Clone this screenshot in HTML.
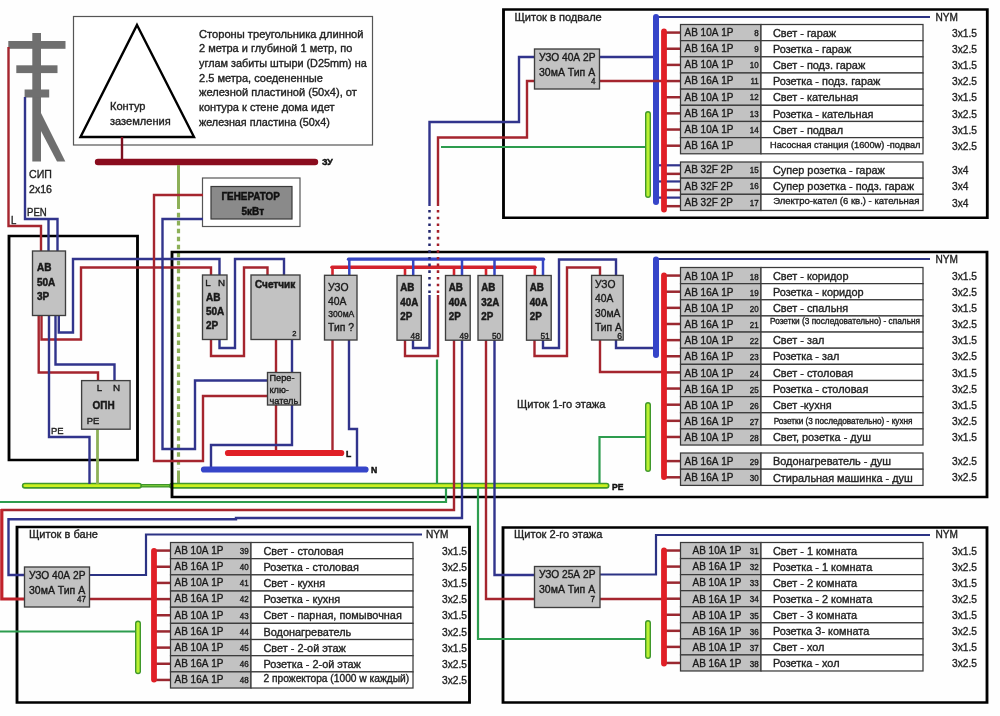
<!DOCTYPE html>
<html lang="ru"><head><meta charset="utf-8"><title>Схема электрощитков</title>
<style>
html,body{margin:0;padding:0;background:#fefefe;}
body{width:1000px;height:716px;overflow:hidden;font-family:"Liberation Sans",sans-serif;}
svg{display:block;filter:blur(0.45px);}
svg text{font-family:"Liberation Sans",sans-serif;}
</style></head><body>
<svg width="1000" height="716" viewBox="0 0 1000 716">
<rect x="0" y="0" width="1000" height="716" fill="#fefefe"/>
<g fill="#6f6f6f">
<rect x="32.3" y="33" width="8.7" height="128.5"/>
<rect x="8.3" y="41" width="57.2" height="7.8"/>
<rect x="16.3" y="65.3" width="41.2" height="7.8"/>
<rect x="24.6" y="89.5" width="24.6" height="8"/>
<polygon points="41,113 65.3,161.5 57,161.5 41,131"/>
</g>
<rect x="73.5" y="16.5" width="299.0" height="128.5" fill="#fff" stroke="#555" stroke-width="1.2" />
<polygon points="137,25 194,137 80.5,137" fill="none" stroke="#000" stroke-width="2.4" stroke-linejoin="miter"/>
<text transform="translate(110 109.99) scale(1.0000 1)" font-size="11.07" text-anchor="start" fill="#222" stroke="#222" stroke-width="0.36" >Контур</text>
<text transform="translate(110 124.69) scale(1.0000 1)" font-size="11.07" text-anchor="start" fill="#222" stroke="#222" stroke-width="0.36" >заземления</text>
<text transform="translate(199 37.72) scale(1.0220 1)" font-size="10.90" text-anchor="start" fill="#222" stroke="#222" stroke-width="0.36" >Стороны треугольника длинной</text>
<text transform="translate(199 52.37) scale(1.0085 1)" font-size="10.90" text-anchor="start" fill="#222" stroke="#222" stroke-width="0.36" >2 метра и глубиной 1 метр, по</text>
<text transform="translate(199 67.02) scale(0.9961 1)" font-size="10.90" text-anchor="start" fill="#222" stroke="#222" stroke-width="0.36" >углам забиты штыри (D25mm) на</text>
<text transform="translate(199 81.67) scale(1.0127 1)" font-size="10.90" text-anchor="start" fill="#222" stroke="#222" stroke-width="0.36" >2.5 метра, соедененные</text>
<text transform="translate(199 96.32) scale(1.0181 1)" font-size="10.90" text-anchor="start" fill="#222" stroke="#222" stroke-width="0.36" >железной пластиной (50х4), от</text>
<text transform="translate(199 110.97) scale(1.0119 1)" font-size="10.90" text-anchor="start" fill="#222" stroke="#222" stroke-width="0.36" >контура к стене дома идет</text>
<text transform="translate(199 125.62) scale(0.9921 1)" font-size="10.90" text-anchor="start" fill="#222" stroke="#222" stroke-width="0.36" >железная пластина (50х4)</text>
<polyline points="122,137 122,160" fill="none" stroke="#7d0f1f" stroke-width="2.4" stroke-linecap="butt" stroke-linejoin="miter" />
<polyline points="98,162 315,162" fill="none" stroke="#8a0c1e" stroke-width="6.4" stroke-linecap="round" stroke-linejoin="miter" />
<text transform="translate(322 165.36) scale(0.9434 1)" font-size="9.33" font-weight="bold" text-anchor="start" fill="#111" stroke="#111" stroke-width="0.5" >ЗУ</text>
<polyline points="178.5,165 178.5,209" fill="none" stroke="#8db058" stroke-width="3" stroke-linecap="butt" stroke-linejoin="miter" />
<polyline points="178.5,212.8 178.5,468.6" fill="none" stroke="#8db058" stroke-width="3.2" stroke-linecap="butt" stroke-linejoin="miter" stroke-dasharray="4.6 3.38"/>
<polyline points="178.5,470.5 178.5,485" fill="none" stroke="#8db058" stroke-width="3" stroke-linecap="butt" stroke-linejoin="miter" />
<rect x="202.5" y="178" width="97.5" height="48.5" fill="#fff" stroke="#555" stroke-width="1.2" />
<rect x="211" y="186.5" width="81" height="32.5" fill="#8a8a8a" stroke="#3a3a3a" stroke-width="1.2" />
<text transform="translate(250.7 199.98) scale(0.9434 1)" font-size="10.49" font-weight="bold" text-anchor="middle" fill="#111" stroke="#111" stroke-width="0.5" >ГЕНЕРАТОР</text>
<text transform="translate(252.8 214.62) scale(0.9434 1)" font-size="10.60" font-weight="bold" text-anchor="middle" fill="#111" stroke="#111" stroke-width="0.5" >5кВт</text>
<text transform="translate(29 178.04) scale(0.9434 1)" font-size="11.24" text-anchor="start" fill="#222" stroke="#222" stroke-width="0.36" >СИП</text>
<text transform="translate(29 192.54) scale(0.9434 1)" font-size="11.24" text-anchor="start" fill="#222" stroke="#222" stroke-width="0.36" >2x16</text>
<text transform="translate(27 216.16) scale(0.9434 1)" font-size="10.18" text-anchor="start" fill="#222" stroke="#222" stroke-width="0.36" >PEN</text>
<text transform="translate(11 223.66) scale(0.9434 1)" font-size="10.18" text-anchor="start" fill="#222" stroke="#222" stroke-width="0.36" >L</text>
<polyline points="139,485.7 172,485.7" fill="none" stroke="#3f932b" stroke-width="3.4" stroke-linecap="butt" stroke-linejoin="miter" />
<polyline points="139,485.7 172,485.7" fill="none" stroke="#7fd23a" stroke-width="1.0" stroke-linecap="butt" stroke-linejoin="miter" />
<polyline points="24.8,485.7 139,485.7" fill="none" stroke="#3f982b" stroke-width="6" stroke-linecap="round" stroke-linejoin="miter" />
<polyline points="24.8,485.7 139,485.7" fill="none" stroke="#cbf01e" stroke-width="2.8" stroke-linecap="round" stroke-linejoin="miter" />
<polyline points="172,485.7 606.5,485.7" fill="none" stroke="#3f982b" stroke-width="6" stroke-linecap="round" stroke-linejoin="miter" />
<polyline points="172,485.7 606.5,485.7" fill="none" stroke="#cbf01e" stroke-width="2.8" stroke-linecap="round" stroke-linejoin="miter" />
<path d="M7.575 234.75H138.925V461.25H7.575Z M10.425 237.25V458.75H136.075V237.25Z" fill="#000" fill-rule="evenodd"/>
<path d="M170.575 250.75H988.425V498.25H170.575Z M173.425 253.25V495.75H985.575V253.25Z" fill="#000" fill-rule="evenodd"/>
<path d="M502.075 8.25H988.7249999999999V219.05H502.075Z M504.925 10.75V216.55H985.875V10.75Z" fill="#000" fill-rule="evenodd"/>
<path d="M15.575 525.75H470.925V703.75H15.575Z M18.425 528.25V701.25H468.075V528.25Z" fill="#000" fill-rule="evenodd"/>
<path d="M501.575 526.25H988.425V703.75H501.575Z M504.425 528.75V701.25H985.575V528.75Z" fill="#000" fill-rule="evenodd"/>
<polyline points="8.5,47 8.5,226 41,226 41,251" fill="none" stroke="#a5252e" stroke-width="2.4" stroke-linecap="butt" stroke-linejoin="miter" />
<polyline points="25,97 25,219 57.5,219 57.5,251" fill="none" stroke="#31348c" stroke-width="2.4" stroke-linecap="butt" stroke-linejoin="miter" />
<polyline points="48.5,219 48.5,251" fill="none" stroke="#31348c" stroke-width="2.4" stroke-linecap="butt" stroke-linejoin="miter" />
<polyline points="38.7,315 38.7,372.5 98,372.5 98,381" fill="none" stroke="#a5252e" stroke-width="2.4" stroke-linecap="butt" stroke-linejoin="miter" />
<polyline points="41.5,315 41.5,339.5 81,339.5 81,267.5 211,267.5 211,275" fill="none" stroke="#a5252e" stroke-width="2.4" stroke-linecap="butt" stroke-linejoin="miter" />
<polyline points="49,315 49,437 89.5,437 89.5,484" fill="none" stroke="#31348c" stroke-width="2.4" stroke-linecap="butt" stroke-linejoin="miter" />
<polyline points="55.5,315 55.5,364.5 114.5,364.5 114.5,381" fill="none" stroke="#31348c" stroke-width="2.4" stroke-linecap="butt" stroke-linejoin="miter" />
<polyline points="58.8,315 58.8,332.5 73,332.5 73,259 219.5,259 219.5,275" fill="none" stroke="#31348c" stroke-width="2.4" stroke-linecap="butt" stroke-linejoin="miter" />
<polyline points="97.5,429 97.5,484" fill="none" stroke="#8db058" stroke-width="2.8" stroke-linecap="butt" stroke-linejoin="miter" />
<polyline points="203,195 154,195 154,461 203,461 203,396 268,396" fill="none" stroke="#a5252e" stroke-width="2.4" stroke-linecap="butt" stroke-linejoin="miter" />
<polyline points="203,219 162.5,219 162.5,449 195,449 195,380.5 268,380.5" fill="none" stroke="#31348c" stroke-width="2.4" stroke-linecap="butt" stroke-linejoin="miter" />
<polyline points="211,339 211,356 244,356 244,267.5 267.5,267.5 267.5,275" fill="none" stroke="#a5252e" stroke-width="2.4" stroke-linecap="butt" stroke-linejoin="miter" />
<polyline points="219.5,339 219.5,348 235,348 235,259 284,259 284,275" fill="none" stroke="#31348c" stroke-width="2.4" stroke-linecap="butt" stroke-linejoin="miter" />
<polyline points="276,339 276,373" fill="none" stroke="#a5252e" stroke-width="2.4" stroke-linecap="butt" stroke-linejoin="miter" />
<polyline points="292,339 292,373" fill="none" stroke="#31348c" stroke-width="2.4" stroke-linecap="butt" stroke-linejoin="miter" />
<polyline points="276,405 276,453" fill="none" stroke="#a5252e" stroke-width="2.4" stroke-linecap="butt" stroke-linejoin="miter" />
<polyline points="292,405 292,445 211,445 211,469" fill="none" stroke="#31348c" stroke-width="2.4" stroke-linecap="butt" stroke-linejoin="miter" />
<polyline points="332.5,339 332.5,453" fill="none" stroke="#a5252e" stroke-width="2.4" stroke-linecap="butt" stroke-linejoin="miter" />
<polyline points="349,339 349,429 357,429 357,469" fill="none" stroke="#31348c" stroke-width="2.4" stroke-linecap="butt" stroke-linejoin="miter" />
<polyline points="228,453 341.2,453" fill="none" stroke="#e01f26" stroke-width="6.2" stroke-linecap="round" stroke-linejoin="miter" />
<polyline points="204,469.5 365.5,469.5" fill="none" stroke="#3645c9" stroke-width="6.2" stroke-linecap="round" stroke-linejoin="miter" />
<text transform="translate(346 456.78) scale(0.9434 1)" font-size="9.12" font-weight="bold" text-anchor="start" fill="#111" stroke="#111" stroke-width="0.5" >L</text>
<text transform="translate(371 472.78) scale(0.9434 1)" font-size="9.12" font-weight="bold" text-anchor="start" fill="#111" stroke="#111" stroke-width="0.5" >N</text>
<polyline points="332,267.2 535,267.2" fill="none" stroke="#d3222c" stroke-width="3.5" stroke-linecap="round" stroke-linejoin="miter" />
<polyline points="332.5,267.2 332.5,275.5" fill="none" stroke="#d3222c" stroke-width="2.6" stroke-linecap="butt" stroke-linejoin="miter" />
<polyline points="405,267.2 405,275.5" fill="none" stroke="#d3222c" stroke-width="2.6" stroke-linecap="butt" stroke-linejoin="miter" />
<polyline points="454,267.2 454,275.5" fill="none" stroke="#d3222c" stroke-width="2.6" stroke-linecap="butt" stroke-linejoin="miter" />
<polyline points="486,267.2 486,275.5" fill="none" stroke="#d3222c" stroke-width="2.6" stroke-linecap="butt" stroke-linejoin="miter" />
<polyline points="534.8,267.2 534.8,275.5" fill="none" stroke="#d3222c" stroke-width="2.6" stroke-linecap="butt" stroke-linejoin="miter" />
<polyline points="348.5,259.2 543.5,259.2" fill="none" stroke="#3545c2" stroke-width="3.3" stroke-linecap="round" stroke-linejoin="miter" />
<polyline points="349.3,259.2 349.3,275.5" fill="none" stroke="#3545c2" stroke-width="2.5" stroke-linecap="butt" stroke-linejoin="miter" />
<polyline points="413.2,259.2 413.2,275.5" fill="none" stroke="#3545c2" stroke-width="2.5" stroke-linecap="butt" stroke-linejoin="miter" />
<polyline points="462,259.2 462,275.5" fill="none" stroke="#3545c2" stroke-width="2.5" stroke-linecap="butt" stroke-linejoin="miter" />
<polyline points="494.5,259.2 494.5,275.5" fill="none" stroke="#3545c2" stroke-width="2.5" stroke-linecap="butt" stroke-linejoin="miter" />
<polyline points="543,259.2 543,275.5" fill="none" stroke="#3545c2" stroke-width="2.5" stroke-linecap="butt" stroke-linejoin="miter" />
<polyline points="413,339 413,348 429.5,348 429.5,295" fill="none" stroke="#31348c" stroke-width="2.4" stroke-linecap="butt" stroke-linejoin="miter" />
<polyline points="405,339 405,356 438,356 438,295" fill="none" stroke="#a5252e" stroke-width="2.4" stroke-linecap="butt" stroke-linejoin="miter" />
<polyline points="429.5,210 429.5,293.5" fill="none" stroke="#22266e" stroke-width="2.5" stroke-linecap="butt" stroke-linejoin="miter" stroke-dasharray="2.6 4.1"/>
<polyline points="438,210 438,293.5" fill="none" stroke="#a51f29" stroke-width="2.5" stroke-linecap="butt" stroke-linejoin="miter" stroke-dasharray="2.6 4.1"/>
<polyline points="429.5,206 429.5,122 519,122 519,57 535,57" fill="none" stroke="#31348c" stroke-width="2.4" stroke-linecap="butt" stroke-linejoin="miter" />
<polyline points="438,206 438,137.5 527,137.5 527,81 535,81" fill="none" stroke="#a5252e" stroke-width="2.4" stroke-linecap="butt" stroke-linejoin="miter" />
<polyline points="437,359.5 437,484" fill="none" stroke="#2d9c4e" stroke-width="2.2" stroke-linecap="butt" stroke-linejoin="miter" />
<polyline points="441,147 645,147" fill="none" stroke="#2d9c4e" stroke-width="2.2" stroke-linecap="butt" stroke-linejoin="miter" />
<polyline points="454,339 454,510 1,510" fill="none" stroke="#a5252e" stroke-width="2.4" stroke-linecap="butt" stroke-linejoin="miter" />
<polyline points="1.8,509 1.8,599 25,599" fill="none" stroke="#c0222b" stroke-width="3.2" stroke-linecap="butt" stroke-linejoin="miter" />
<polyline points="462,339 462,518 236,518 236,519.3 8.5,519.3 8.5,575 25,575" fill="none" stroke="#31348c" stroke-width="2.4" stroke-linecap="butt" stroke-linejoin="miter" />
<polyline points="446,488 446,502 0,502" fill="none" stroke="#2d9c4e" stroke-width="2.2" stroke-linecap="butt" stroke-linejoin="miter" />
<polyline points="0,631.5 135,631.5" fill="none" stroke="#2d9c4e" stroke-width="2.2" stroke-linecap="butt" stroke-linejoin="miter" />
<polyline points="486,339 486,599 535,599" fill="none" stroke="#a5252e" stroke-width="2.4" stroke-linecap="butt" stroke-linejoin="miter" />
<polyline points="494.5,339 494.5,575 535,575" fill="none" stroke="#31348c" stroke-width="2.4" stroke-linecap="butt" stroke-linejoin="miter" />
<polyline points="478,488 478,639 645,639" fill="none" stroke="#2d9c4e" stroke-width="2.2" stroke-linecap="butt" stroke-linejoin="miter" />
<polyline points="534.5,339 534.5,356 567,356 567,267.5 600,267.5 600,275" fill="none" stroke="#a5252e" stroke-width="2.4" stroke-linecap="butt" stroke-linejoin="miter" />
<polyline points="543,339 543,348 559,348 559,259.5 616,259.5 616,275" fill="none" stroke="#31348c" stroke-width="2.4" stroke-linecap="butt" stroke-linejoin="miter" />
<polyline points="600,339 600,372 664,372" fill="none" stroke="#a5252e" stroke-width="2.4" stroke-linecap="butt" stroke-linejoin="miter" />
<polyline points="616,339 616,348 655,348" fill="none" stroke="#31348c" stroke-width="2.4" stroke-linecap="butt" stroke-linejoin="miter" />
<polyline points="599.5,484 599.5,437 645,437" fill="none" stroke="#2d9c4e" stroke-width="2.2" stroke-linecap="butt" stroke-linejoin="miter" />
<text transform="translate(612 489.78) scale(0.9434 1)" font-size="9.12" font-weight="bold" text-anchor="start" fill="#111" stroke="#111" stroke-width="0.5" >PE</text>
<text transform="translate(514.5 20.98) scale(1.0000 1)" font-size="11.05" text-anchor="start" fill="#222" stroke="#222" stroke-width="0.36" >Щиток в подвале</text>
<text transform="translate(517 408.48) scale(1.0000 1)" font-size="11.05" text-anchor="start" fill="#222" stroke="#222" stroke-width="0.36" >Щиток 1-го этажа</text>
<text transform="translate(514 538.48) scale(1.0000 1)" font-size="11.05" text-anchor="start" fill="#222" stroke="#222" stroke-width="0.36" >Щиток 2-го этажа</text>
<text transform="translate(29 538.48) scale(1.0000 1)" font-size="11.05" text-anchor="start" fill="#222" stroke="#222" stroke-width="0.36" >Щиток в бане</text>
<polyline points="664,32.58 680.5,32.58" fill="none" stroke="#9a2830" stroke-width="2.5" stroke-linecap="butt" stroke-linejoin="miter" />
<rect x="680.5" y="24.5" width="80.5" height="16.159999999999997" fill="#c2c2c2" stroke="#3a3a3a" stroke-width="1.25" />
<rect x="761" y="24.5" width="162" height="16.159999999999997" fill="#fff" stroke="#3a3a3a" stroke-width="1.25" />
<text transform="translate(684.5 35.90) scale(0.9434 1)" font-size="10.60" text-anchor="start" fill="#1a1a1a" stroke="#1a1a1a" stroke-width="0.36" >АВ 10А 1Р</text>
<text transform="translate(758.7 35.83) scale(0.9434 1)" font-size="8.48" text-anchor="end" fill="#1a1a1a" stroke="#1a1a1a" stroke-width="0.36" >8</text>
<text transform="translate(773 36.80) scale(1.0000 1)" font-size="10.90" text-anchor="start" fill="#222" stroke="#222" stroke-width="0.36" >Свет - гараж</text>
<text transform="translate(952 36.77) scale(0.9434 1)" font-size="10.81" text-anchor="start" fill="#222" stroke="#222" stroke-width="0.36" >3x1.5</text>
<polyline points="664,48.739999999999995 680.5,48.739999999999995" fill="none" stroke="#9a2830" stroke-width="2.5" stroke-linecap="butt" stroke-linejoin="miter" />
<rect x="680.5" y="40.66" width="80.5" height="16.159999999999997" fill="#c2c2c2" stroke="#3a3a3a" stroke-width="1.25" />
<rect x="761" y="40.66" width="162" height="16.159999999999997" fill="#fff" stroke="#3a3a3a" stroke-width="1.25" />
<text transform="translate(684.5 52.06) scale(0.9434 1)" font-size="10.60" text-anchor="start" fill="#1a1a1a" stroke="#1a1a1a" stroke-width="0.36" >АВ 16А 1Р</text>
<text transform="translate(758.7 51.99) scale(0.9434 1)" font-size="8.48" text-anchor="end" fill="#1a1a1a" stroke="#1a1a1a" stroke-width="0.36" >9</text>
<text transform="translate(773 52.96) scale(1.0000 1)" font-size="10.90" text-anchor="start" fill="#222" stroke="#222" stroke-width="0.36" >Розетка - гараж</text>
<text transform="translate(952 52.93) scale(0.9434 1)" font-size="10.81" text-anchor="start" fill="#222" stroke="#222" stroke-width="0.36" >3x2.5</text>
<polyline points="664,64.9 680.5,64.9" fill="none" stroke="#9a2830" stroke-width="2.5" stroke-linecap="butt" stroke-linejoin="miter" />
<rect x="680.5" y="56.82" width="80.5" height="16.160000000000004" fill="#c2c2c2" stroke="#3a3a3a" stroke-width="1.25" />
<rect x="761" y="56.82" width="162" height="16.160000000000004" fill="#fff" stroke="#3a3a3a" stroke-width="1.25" />
<text transform="translate(684.5 68.22) scale(0.9434 1)" font-size="10.60" text-anchor="start" fill="#1a1a1a" stroke="#1a1a1a" stroke-width="0.36" >АВ 10А 1Р</text>
<text transform="translate(758.7 68.15) scale(0.9434 1)" font-size="8.48" text-anchor="end" fill="#1a1a1a" stroke="#1a1a1a" stroke-width="0.36" >10</text>
<text transform="translate(773 69.12) scale(1.0000 1)" font-size="10.90" text-anchor="start" fill="#222" stroke="#222" stroke-width="0.36" >Свет - подз. гараж</text>
<text transform="translate(952 69.09) scale(0.9434 1)" font-size="10.81" text-anchor="start" fill="#222" stroke="#222" stroke-width="0.36" >3x1.5</text>
<polyline points="664,81.06 680.5,81.06" fill="none" stroke="#9a2830" stroke-width="2.5" stroke-linecap="butt" stroke-linejoin="miter" />
<rect x="680.5" y="72.98" width="80.5" height="16.159999999999997" fill="#c2c2c2" stroke="#3a3a3a" stroke-width="1.25" />
<rect x="761" y="72.98" width="162" height="16.159999999999997" fill="#fff" stroke="#3a3a3a" stroke-width="1.25" />
<text transform="translate(684.5 84.38) scale(0.9434 1)" font-size="10.60" text-anchor="start" fill="#1a1a1a" stroke="#1a1a1a" stroke-width="0.36" >АВ 16А 1Р</text>
<text transform="translate(758.7 84.31) scale(0.9434 1)" font-size="8.48" text-anchor="end" fill="#1a1a1a" stroke="#1a1a1a" stroke-width="0.36" >11</text>
<text transform="translate(773 85.28) scale(1.0000 1)" font-size="10.90" text-anchor="start" fill="#222" stroke="#222" stroke-width="0.36" >Розетка - подз. гараж</text>
<text transform="translate(952 85.25) scale(0.9434 1)" font-size="10.81" text-anchor="start" fill="#222" stroke="#222" stroke-width="0.36" >3x2.5</text>
<polyline points="664,97.22 680.5,97.22" fill="none" stroke="#9a2830" stroke-width="2.5" stroke-linecap="butt" stroke-linejoin="miter" />
<rect x="680.5" y="89.14" width="80.5" height="16.159999999999997" fill="#c2c2c2" stroke="#3a3a3a" stroke-width="1.25" />
<rect x="761" y="89.14" width="162" height="16.159999999999997" fill="#fff" stroke="#3a3a3a" stroke-width="1.25" />
<text transform="translate(684.5 100.54) scale(0.9434 1)" font-size="10.60" text-anchor="start" fill="#1a1a1a" stroke="#1a1a1a" stroke-width="0.36" >АВ 10А 1Р</text>
<text transform="translate(758.7 100.47) scale(0.9434 1)" font-size="8.48" text-anchor="end" fill="#1a1a1a" stroke="#1a1a1a" stroke-width="0.36" >12</text>
<text transform="translate(773 101.44) scale(1.0000 1)" font-size="10.90" text-anchor="start" fill="#222" stroke="#222" stroke-width="0.36" >Свет - кательная</text>
<text transform="translate(952 101.41) scale(0.9434 1)" font-size="10.81" text-anchor="start" fill="#222" stroke="#222" stroke-width="0.36" >3x1.5</text>
<polyline points="664,113.38 680.5,113.38" fill="none" stroke="#9a2830" stroke-width="2.5" stroke-linecap="butt" stroke-linejoin="miter" />
<rect x="680.5" y="105.3" width="80.5" height="16.159999999999997" fill="#c2c2c2" stroke="#3a3a3a" stroke-width="1.25" />
<rect x="761" y="105.3" width="162" height="16.159999999999997" fill="#fff" stroke="#3a3a3a" stroke-width="1.25" />
<text transform="translate(684.5 116.70) scale(0.9434 1)" font-size="10.60" text-anchor="start" fill="#1a1a1a" stroke="#1a1a1a" stroke-width="0.36" >АВ 16А 1Р</text>
<text transform="translate(758.7 116.63) scale(0.9434 1)" font-size="8.48" text-anchor="end" fill="#1a1a1a" stroke="#1a1a1a" stroke-width="0.36" >13</text>
<text transform="translate(773 117.60) scale(1.0000 1)" font-size="10.90" text-anchor="start" fill="#222" stroke="#222" stroke-width="0.36" >Розетка - кательная</text>
<text transform="translate(952 117.57) scale(0.9434 1)" font-size="10.81" text-anchor="start" fill="#222" stroke="#222" stroke-width="0.36" >3x2.5</text>
<polyline points="664,129.54000000000002 680.5,129.54000000000002" fill="none" stroke="#9a2830" stroke-width="2.5" stroke-linecap="butt" stroke-linejoin="miter" />
<rect x="680.5" y="121.46000000000001" width="80.5" height="16.159999999999997" fill="#c2c2c2" stroke="#3a3a3a" stroke-width="1.25" />
<rect x="761" y="121.46000000000001" width="162" height="16.159999999999997" fill="#fff" stroke="#3a3a3a" stroke-width="1.25" />
<text transform="translate(684.5 132.86) scale(0.9434 1)" font-size="10.60" text-anchor="start" fill="#1a1a1a" stroke="#1a1a1a" stroke-width="0.36" >АВ 10А 1Р</text>
<text transform="translate(758.7 132.79) scale(0.9434 1)" font-size="8.48" text-anchor="end" fill="#1a1a1a" stroke="#1a1a1a" stroke-width="0.36" >14</text>
<text transform="translate(773 133.76) scale(1.0000 1)" font-size="10.90" text-anchor="start" fill="#222" stroke="#222" stroke-width="0.36" >Свет - подвал</text>
<text transform="translate(952 133.73) scale(0.9434 1)" font-size="10.81" text-anchor="start" fill="#222" stroke="#222" stroke-width="0.36" >3x1.5</text>
<polyline points="664,145.7 680.5,145.7" fill="none" stroke="#9a2830" stroke-width="2.5" stroke-linecap="butt" stroke-linejoin="miter" />
<rect x="680.5" y="137.62" width="80.5" height="16.159999999999997" fill="#c2c2c2" stroke="#3a3a3a" stroke-width="1.25" />
<rect x="761" y="137.62" width="162" height="16.159999999999997" fill="#fff" stroke="#3a3a3a" stroke-width="1.25" />
<text transform="translate(684.5 149.02) scale(0.9434 1)" font-size="10.60" text-anchor="start" fill="#1a1a1a" stroke="#1a1a1a" stroke-width="0.36" >АВ 16А 1Р</text>
<text transform="translate(770 147.57) scale(1.0000 1)" font-size="9.22" text-anchor="start" fill="#222" stroke="#222" stroke-width="0.36" >Насосная станция (1600w) -подвал</text>
<text transform="translate(952 149.89) scale(0.9434 1)" font-size="10.81" text-anchor="start" fill="#222" stroke="#222" stroke-width="0.36" >3x2.5</text>
<polyline points="656,165.3 680.5,165.3" fill="none" stroke="#31348c" stroke-width="2.2" stroke-linecap="butt" stroke-linejoin="miter" />
<polyline points="664,173.85999999999999 680.5,173.85999999999999" fill="none" stroke="#9a2830" stroke-width="2.5" stroke-linecap="butt" stroke-linejoin="miter" />
<rect x="680.5" y="162.0" width="80.5" height="16.159999999999997" fill="#c2c2c2" stroke="#3a3a3a" stroke-width="1.25" />
<rect x="761" y="162.0" width="162" height="16.159999999999997" fill="#fff" stroke="#3a3a3a" stroke-width="1.25" />
<text transform="translate(684.5 173.40) scale(0.9434 1)" font-size="10.60" text-anchor="start" fill="#1a1a1a" stroke="#1a1a1a" stroke-width="0.36" >АВ 32F 2Р</text>
<text transform="translate(758.7 173.33) scale(0.9434 1)" font-size="8.48" text-anchor="end" fill="#1a1a1a" stroke="#1a1a1a" stroke-width="0.36" >15</text>
<text transform="translate(773 174.30) scale(1.0000 1)" font-size="10.90" text-anchor="start" fill="#222" stroke="#222" stroke-width="0.36" >Супер розетка - гараж</text>
<text transform="translate(952 174.27) scale(0.9434 1)" font-size="10.81" text-anchor="start" fill="#222" stroke="#222" stroke-width="0.36" >3x4</text>
<polyline points="656,181.46 680.5,181.46" fill="none" stroke="#31348c" stroke-width="2.2" stroke-linecap="butt" stroke-linejoin="miter" />
<polyline points="664,190.01999999999998 680.5,190.01999999999998" fill="none" stroke="#9a2830" stroke-width="2.5" stroke-linecap="butt" stroke-linejoin="miter" />
<rect x="680.5" y="178.16" width="80.5" height="16.159999999999997" fill="#c2c2c2" stroke="#3a3a3a" stroke-width="1.25" />
<rect x="761" y="178.16" width="162" height="16.159999999999997" fill="#fff" stroke="#3a3a3a" stroke-width="1.25" />
<text transform="translate(684.5 189.56) scale(0.9434 1)" font-size="10.60" text-anchor="start" fill="#1a1a1a" stroke="#1a1a1a" stroke-width="0.36" >АВ 32F 2Р</text>
<text transform="translate(758.7 189.49) scale(0.9434 1)" font-size="8.48" text-anchor="end" fill="#1a1a1a" stroke="#1a1a1a" stroke-width="0.36" >16</text>
<text transform="translate(773 190.46) scale(1.0000 1)" font-size="10.90" text-anchor="start" fill="#222" stroke="#222" stroke-width="0.36" >Супер розетка - подз. гараж</text>
<text transform="translate(952 190.43) scale(0.9434 1)" font-size="10.81" text-anchor="start" fill="#222" stroke="#222" stroke-width="0.36" >3x4</text>
<polyline points="656,197.62 680.5,197.62" fill="none" stroke="#31348c" stroke-width="2.2" stroke-linecap="butt" stroke-linejoin="miter" />
<polyline points="664,206.17999999999998 680.5,206.17999999999998" fill="none" stroke="#9a2830" stroke-width="2.5" stroke-linecap="butt" stroke-linejoin="miter" />
<rect x="680.5" y="194.32" width="80.5" height="16.159999999999997" fill="#c2c2c2" stroke="#3a3a3a" stroke-width="1.25" />
<rect x="761" y="194.32" width="162" height="16.159999999999997" fill="#fff" stroke="#3a3a3a" stroke-width="1.25" />
<text transform="translate(684.5 205.72) scale(0.9434 1)" font-size="10.60" text-anchor="start" fill="#1a1a1a" stroke="#1a1a1a" stroke-width="0.36" >АВ 32F 2Р</text>
<text transform="translate(758.7 205.65) scale(0.9434 1)" font-size="8.48" text-anchor="end" fill="#1a1a1a" stroke="#1a1a1a" stroke-width="0.36" >17</text>
<text transform="translate(773.2 204.18) scale(1.0000 1)" font-size="9.53" text-anchor="start" fill="#222" stroke="#222" stroke-width="0.36" >Электро-кател (6 кв.) - кательная</text>
<text transform="translate(952 206.59) scale(0.9434 1)" font-size="10.81" text-anchor="start" fill="#222" stroke="#222" stroke-width="0.36" >3x4</text>
<polyline points="656,17 930,17" fill="none" stroke="#2c3384" stroke-width="2" stroke-linecap="butt" stroke-linejoin="miter" />
<polyline points="599.5,57 656,57" fill="none" stroke="#31348c" stroke-width="2.4" stroke-linecap="butt" stroke-linejoin="miter" />
<polyline points="656,17 656,202" fill="none" stroke="#3645c9" stroke-width="6" stroke-linecap="round" stroke-linejoin="miter" />
<polyline points="599.5,81 664,81" fill="none" stroke="#a5252e" stroke-width="2.4" stroke-linecap="butt" stroke-linejoin="miter" />
<polyline points="664,31.5 664,209.5" fill="none" stroke="#e01f26" stroke-width="5.8" stroke-linecap="round" stroke-linejoin="miter" />
<polyline points="648,114 648,195" fill="none" stroke="#3f982b" stroke-width="6" stroke-linecap="round" stroke-linejoin="miter" />
<polyline points="648,114 648,195" fill="none" stroke="#b9f032" stroke-width="3.2" stroke-linecap="round" stroke-linejoin="miter" />
<text transform="translate(935.5 20.85) scale(0.9434 1)" font-size="10.71" text-anchor="start" fill="#222" stroke="#222" stroke-width="0.36" >NYM</text>
<polyline points="664,275.57 680.5,275.57" fill="none" stroke="#9a2830" stroke-width="2.5" stroke-linecap="butt" stroke-linejoin="miter" />
<rect x="680.5" y="267.5" width="80.5" height="16.139999999999986" fill="#c2c2c2" stroke="#3a3a3a" stroke-width="1.25" />
<rect x="761" y="267.5" width="162" height="16.139999999999986" fill="#fff" stroke="#3a3a3a" stroke-width="1.25" />
<text transform="translate(684.5 279.79) scale(0.9434 1)" font-size="10.60" text-anchor="start" fill="#1a1a1a" stroke="#1a1a1a" stroke-width="0.36" >АВ 10А 1Р</text>
<text transform="translate(758.7 279.72) scale(0.9434 1)" font-size="8.48" text-anchor="end" fill="#1a1a1a" stroke="#1a1a1a" stroke-width="0.36" >18</text>
<text transform="translate(773 279.79) scale(1.0000 1)" font-size="10.90" text-anchor="start" fill="#222" stroke="#222" stroke-width="0.36" >Свет - коридор</text>
<text transform="translate(952 279.76) scale(0.9434 1)" font-size="10.81" text-anchor="start" fill="#222" stroke="#222" stroke-width="0.36" >3x1.5</text>
<polyline points="664,291.71 680.5,291.71" fill="none" stroke="#9a2830" stroke-width="2.5" stroke-linecap="butt" stroke-linejoin="miter" />
<rect x="680.5" y="283.64" width="80.5" height="16.139999999999986" fill="#c2c2c2" stroke="#3a3a3a" stroke-width="1.25" />
<rect x="761" y="283.64" width="162" height="16.139999999999986" fill="#fff" stroke="#3a3a3a" stroke-width="1.25" />
<text transform="translate(684.5 295.93) scale(0.9434 1)" font-size="10.60" text-anchor="start" fill="#1a1a1a" stroke="#1a1a1a" stroke-width="0.36" >АВ 16А 1Р</text>
<text transform="translate(758.7 295.86) scale(0.9434 1)" font-size="8.48" text-anchor="end" fill="#1a1a1a" stroke="#1a1a1a" stroke-width="0.36" >19</text>
<text transform="translate(773 295.93) scale(1.0000 1)" font-size="10.90" text-anchor="start" fill="#222" stroke="#222" stroke-width="0.36" >Розетка - коридор</text>
<text transform="translate(952 295.90) scale(0.9434 1)" font-size="10.81" text-anchor="start" fill="#222" stroke="#222" stroke-width="0.36" >3x2.5</text>
<polyline points="664,307.84999999999997 680.5,307.84999999999997" fill="none" stroke="#9a2830" stroke-width="2.5" stroke-linecap="butt" stroke-linejoin="miter" />
<rect x="680.5" y="299.78" width="80.5" height="16.139999999999986" fill="#c2c2c2" stroke="#3a3a3a" stroke-width="1.25" />
<rect x="761" y="299.78" width="162" height="16.139999999999986" fill="#fff" stroke="#3a3a3a" stroke-width="1.25" />
<text transform="translate(684.5 312.07) scale(0.9434 1)" font-size="10.60" text-anchor="start" fill="#1a1a1a" stroke="#1a1a1a" stroke-width="0.36" >АВ 10А 1Р</text>
<text transform="translate(758.7 312.00) scale(0.9434 1)" font-size="8.48" text-anchor="end" fill="#1a1a1a" stroke="#1a1a1a" stroke-width="0.36" >20</text>
<text transform="translate(773 312.07) scale(1.0000 1)" font-size="10.90" text-anchor="start" fill="#222" stroke="#222" stroke-width="0.36" >Свет - спальня</text>
<text transform="translate(952 312.04) scale(0.9434 1)" font-size="10.81" text-anchor="start" fill="#222" stroke="#222" stroke-width="0.36" >3x1.5</text>
<polyline points="664,323.99 680.5,323.99" fill="none" stroke="#9a2830" stroke-width="2.5" stroke-linecap="butt" stroke-linejoin="miter" />
<rect x="680.5" y="315.92" width="80.5" height="16.139999999999986" fill="#c2c2c2" stroke="#3a3a3a" stroke-width="1.25" />
<rect x="761" y="315.92" width="162" height="16.139999999999986" fill="#fff" stroke="#3a3a3a" stroke-width="1.25" />
<text transform="translate(684.5 328.21) scale(0.9434 1)" font-size="10.60" text-anchor="start" fill="#1a1a1a" stroke="#1a1a1a" stroke-width="0.36" >АВ 16А 1Р</text>
<text transform="translate(758.7 328.14) scale(0.9434 1)" font-size="8.48" text-anchor="end" fill="#1a1a1a" stroke="#1a1a1a" stroke-width="0.36" >21</text>
<text transform="translate(770 324.27) scale(1.0000 1)" font-size="8.27" text-anchor="start" fill="#222" stroke="#222" stroke-width="0.36" >Розетки (3 последовательно) - спальня</text>
<text transform="translate(952 328.18) scale(0.9434 1)" font-size="10.81" text-anchor="start" fill="#222" stroke="#222" stroke-width="0.36" >3x2.5</text>
<polyline points="664,340.13 680.5,340.13" fill="none" stroke="#9a2830" stroke-width="2.5" stroke-linecap="butt" stroke-linejoin="miter" />
<rect x="680.5" y="332.06" width="80.5" height="16.139999999999986" fill="#c2c2c2" stroke="#3a3a3a" stroke-width="1.25" />
<rect x="761" y="332.06" width="162" height="16.139999999999986" fill="#fff" stroke="#3a3a3a" stroke-width="1.25" />
<text transform="translate(684.5 344.35) scale(0.9434 1)" font-size="10.60" text-anchor="start" fill="#1a1a1a" stroke="#1a1a1a" stroke-width="0.36" >АВ 10А 1Р</text>
<text transform="translate(758.7 344.28) scale(0.9434 1)" font-size="8.48" text-anchor="end" fill="#1a1a1a" stroke="#1a1a1a" stroke-width="0.36" >22</text>
<text transform="translate(773 344.35) scale(1.0000 1)" font-size="10.90" text-anchor="start" fill="#222" stroke="#222" stroke-width="0.36" >Свет - зал</text>
<text transform="translate(952 344.32) scale(0.9434 1)" font-size="10.81" text-anchor="start" fill="#222" stroke="#222" stroke-width="0.36" >3x1.5</text>
<polyline points="664,356.27 680.5,356.27" fill="none" stroke="#9a2830" stroke-width="2.5" stroke-linecap="butt" stroke-linejoin="miter" />
<rect x="680.5" y="348.2" width="80.5" height="16.139999999999986" fill="#c2c2c2" stroke="#3a3a3a" stroke-width="1.25" />
<rect x="761" y="348.2" width="162" height="16.139999999999986" fill="#fff" stroke="#3a3a3a" stroke-width="1.25" />
<text transform="translate(684.5 360.49) scale(0.9434 1)" font-size="10.60" text-anchor="start" fill="#1a1a1a" stroke="#1a1a1a" stroke-width="0.36" >АВ 16А 1Р</text>
<text transform="translate(758.7 360.42) scale(0.9434 1)" font-size="8.48" text-anchor="end" fill="#1a1a1a" stroke="#1a1a1a" stroke-width="0.36" >23</text>
<text transform="translate(773 360.49) scale(1.0000 1)" font-size="10.90" text-anchor="start" fill="#222" stroke="#222" stroke-width="0.36" >Розетка - зал</text>
<text transform="translate(952 360.46) scale(0.9434 1)" font-size="10.81" text-anchor="start" fill="#222" stroke="#222" stroke-width="0.36" >3x2.5</text>
<polyline points="664,372.41 680.5,372.41" fill="none" stroke="#9a2830" stroke-width="2.5" stroke-linecap="butt" stroke-linejoin="miter" />
<rect x="680.5" y="364.34000000000003" width="80.5" height="16.139999999999986" fill="#c2c2c2" stroke="#3a3a3a" stroke-width="1.25" />
<rect x="761" y="364.34000000000003" width="162" height="16.139999999999986" fill="#fff" stroke="#3a3a3a" stroke-width="1.25" />
<text transform="translate(684.5 376.63) scale(0.9434 1)" font-size="10.60" text-anchor="start" fill="#1a1a1a" stroke="#1a1a1a" stroke-width="0.36" >АВ 10А 1Р</text>
<text transform="translate(758.7 376.56) scale(0.9434 1)" font-size="8.48" text-anchor="end" fill="#1a1a1a" stroke="#1a1a1a" stroke-width="0.36" >24</text>
<text transform="translate(773 376.63) scale(1.0000 1)" font-size="10.90" text-anchor="start" fill="#222" stroke="#222" stroke-width="0.36" >Свет - столовая</text>
<text transform="translate(952 376.60) scale(0.9434 1)" font-size="10.81" text-anchor="start" fill="#222" stroke="#222" stroke-width="0.36" >3x1.5</text>
<polyline points="664,388.55 680.5,388.55" fill="none" stroke="#9a2830" stroke-width="2.5" stroke-linecap="butt" stroke-linejoin="miter" />
<rect x="680.5" y="380.48" width="80.5" height="16.139999999999986" fill="#c2c2c2" stroke="#3a3a3a" stroke-width="1.25" />
<rect x="761" y="380.48" width="162" height="16.139999999999986" fill="#fff" stroke="#3a3a3a" stroke-width="1.25" />
<text transform="translate(684.5 392.77) scale(0.9434 1)" font-size="10.60" text-anchor="start" fill="#1a1a1a" stroke="#1a1a1a" stroke-width="0.36" >АВ 16А 1Р</text>
<text transform="translate(758.7 392.70) scale(0.9434 1)" font-size="8.48" text-anchor="end" fill="#1a1a1a" stroke="#1a1a1a" stroke-width="0.36" >25</text>
<text transform="translate(773 392.77) scale(1.0000 1)" font-size="10.90" text-anchor="start" fill="#222" stroke="#222" stroke-width="0.36" >Розетка - столовая</text>
<text transform="translate(952 392.74) scale(0.9434 1)" font-size="10.81" text-anchor="start" fill="#222" stroke="#222" stroke-width="0.36" >3x2.5</text>
<polyline points="664,404.69 680.5,404.69" fill="none" stroke="#9a2830" stroke-width="2.5" stroke-linecap="butt" stroke-linejoin="miter" />
<rect x="680.5" y="396.62" width="80.5" height="16.139999999999986" fill="#c2c2c2" stroke="#3a3a3a" stroke-width="1.25" />
<rect x="761" y="396.62" width="162" height="16.139999999999986" fill="#fff" stroke="#3a3a3a" stroke-width="1.25" />
<text transform="translate(684.5 408.91) scale(0.9434 1)" font-size="10.60" text-anchor="start" fill="#1a1a1a" stroke="#1a1a1a" stroke-width="0.36" >АВ 10А 1Р</text>
<text transform="translate(758.7 408.84) scale(0.9434 1)" font-size="8.48" text-anchor="end" fill="#1a1a1a" stroke="#1a1a1a" stroke-width="0.36" >26</text>
<text transform="translate(773 408.91) scale(1.0000 1)" font-size="10.90" text-anchor="start" fill="#222" stroke="#222" stroke-width="0.36" >Свет -кухня</text>
<text transform="translate(952 408.88) scale(0.9434 1)" font-size="10.81" text-anchor="start" fill="#222" stroke="#222" stroke-width="0.36" >3x1.5</text>
<polyline points="664,420.83 680.5,420.83" fill="none" stroke="#9a2830" stroke-width="2.5" stroke-linecap="butt" stroke-linejoin="miter" />
<rect x="680.5" y="412.76" width="80.5" height="16.139999999999986" fill="#c2c2c2" stroke="#3a3a3a" stroke-width="1.25" />
<rect x="761" y="412.76" width="162" height="16.139999999999986" fill="#fff" stroke="#3a3a3a" stroke-width="1.25" />
<text transform="translate(684.5 425.05) scale(0.9434 1)" font-size="10.60" text-anchor="start" fill="#1a1a1a" stroke="#1a1a1a" stroke-width="0.36" >АВ 16А 1Р</text>
<text transform="translate(758.7 424.98) scale(0.9434 1)" font-size="8.48" text-anchor="end" fill="#1a1a1a" stroke="#1a1a1a" stroke-width="0.36" >27</text>
<text transform="translate(773.7 423.79) scale(1.0000 1)" font-size="8.22" text-anchor="start" fill="#222" stroke="#222" stroke-width="0.36" >Розетки (3 последовательно) - кухня</text>
<text transform="translate(952 425.02) scale(0.9434 1)" font-size="10.81" text-anchor="start" fill="#222" stroke="#222" stroke-width="0.36" >3x2.5</text>
<polyline points="664,436.96999999999997 680.5,436.96999999999997" fill="none" stroke="#9a2830" stroke-width="2.5" stroke-linecap="butt" stroke-linejoin="miter" />
<rect x="680.5" y="428.9" width="80.5" height="16.139999999999986" fill="#c2c2c2" stroke="#3a3a3a" stroke-width="1.25" />
<rect x="761" y="428.9" width="162" height="16.139999999999986" fill="#fff" stroke="#3a3a3a" stroke-width="1.25" />
<text transform="translate(684.5 441.19) scale(0.9434 1)" font-size="10.60" text-anchor="start" fill="#1a1a1a" stroke="#1a1a1a" stroke-width="0.36" >АВ 10А 1Р</text>
<text transform="translate(758.7 441.12) scale(0.9434 1)" font-size="8.48" text-anchor="end" fill="#1a1a1a" stroke="#1a1a1a" stroke-width="0.36" >28</text>
<text transform="translate(773 441.19) scale(1.0000 1)" font-size="10.90" text-anchor="start" fill="#222" stroke="#222" stroke-width="0.36" >Свет, розетка - душ</text>
<text transform="translate(952 441.16) scale(0.9434 1)" font-size="10.81" text-anchor="start" fill="#222" stroke="#222" stroke-width="0.36" >3x1.5</text>
<polyline points="664,461.1 680.5,461.1" fill="none" stroke="#9a2830" stroke-width="2.5" stroke-linecap="butt" stroke-linejoin="miter" />
<rect x="680.5" y="453.0" width="80.5" height="16.19999999999999" fill="#c2c2c2" stroke="#3a3a3a" stroke-width="1.25" />
<rect x="761" y="453.0" width="162" height="16.19999999999999" fill="#fff" stroke="#3a3a3a" stroke-width="1.25" />
<text transform="translate(684.5 465.02) scale(0.9434 1)" font-size="10.60" text-anchor="start" fill="#1a1a1a" stroke="#1a1a1a" stroke-width="0.36" >АВ 16А 1Р</text>
<text transform="translate(758.7 464.95) scale(0.9434 1)" font-size="8.48" text-anchor="end" fill="#1a1a1a" stroke="#1a1a1a" stroke-width="0.36" >29</text>
<text transform="translate(773 465.32) scale(1.0000 1)" font-size="10.90" text-anchor="start" fill="#222" stroke="#222" stroke-width="0.36" >Водонагреватель - душ</text>
<text transform="translate(952 465.29) scale(0.9434 1)" font-size="10.81" text-anchor="start" fill="#222" stroke="#222" stroke-width="0.36" >3x2.5</text>
<polyline points="664,477.29999999999995 680.5,477.29999999999995" fill="none" stroke="#9a2830" stroke-width="2.5" stroke-linecap="butt" stroke-linejoin="miter" />
<rect x="680.5" y="469.2" width="80.5" height="16.19999999999999" fill="#c2c2c2" stroke="#3a3a3a" stroke-width="1.25" />
<rect x="761" y="469.2" width="162" height="16.19999999999999" fill="#fff" stroke="#3a3a3a" stroke-width="1.25" />
<text transform="translate(684.5 481.22) scale(0.9434 1)" font-size="10.60" text-anchor="start" fill="#1a1a1a" stroke="#1a1a1a" stroke-width="0.36" >АВ 16А 1Р</text>
<text transform="translate(758.7 481.15) scale(0.9434 1)" font-size="8.48" text-anchor="end" fill="#1a1a1a" stroke="#1a1a1a" stroke-width="0.36" >30</text>
<text transform="translate(773 481.52) scale(1.0000 1)" font-size="10.90" text-anchor="start" fill="#222" stroke="#222" stroke-width="0.36" >Стиральная машинка - душ</text>
<text transform="translate(952 481.49) scale(0.9434 1)" font-size="10.81" text-anchor="start" fill="#222" stroke="#222" stroke-width="0.36" >3x2.5</text>
<polyline points="656,259 930,259" fill="none" stroke="#2c3384" stroke-width="2" stroke-linecap="butt" stroke-linejoin="miter" />
<polyline points="656,259.5 656,355" fill="none" stroke="#3645c9" stroke-width="6" stroke-linecap="round" stroke-linejoin="miter" />
<polyline points="664,275.5 664,477" fill="none" stroke="#e01f26" stroke-width="5.8" stroke-linecap="round" stroke-linejoin="miter" />
<polyline points="648,405 648,469" fill="none" stroke="#3f982b" stroke-width="6" stroke-linecap="round" stroke-linejoin="miter" />
<polyline points="648,405 648,469" fill="none" stroke="#b9f032" stroke-width="3.2" stroke-linecap="round" stroke-linejoin="miter" />
<text transform="translate(935.5 262.85) scale(0.9434 1)" font-size="10.71" text-anchor="start" fill="#222" stroke="#222" stroke-width="0.36" >NYM</text>
<polyline points="664,550.53 680.5,550.53" fill="none" stroke="#9a2830" stroke-width="2.5" stroke-linecap="butt" stroke-linejoin="miter" />
<rect x="680.5" y="542.5" width="80.5" height="16.059999999999945" fill="#c2c2c2" stroke="#3a3a3a" stroke-width="1.25" />
<rect x="761" y="542.5" width="162" height="16.059999999999945" fill="#fff" stroke="#3a3a3a" stroke-width="1.25" />
<text transform="translate(692.5 554.35) scale(0.9434 1)" font-size="10.60" text-anchor="start" fill="#1a1a1a" stroke="#1a1a1a" stroke-width="0.36" >АВ 10А 1Р</text>
<text transform="translate(758.7 554.28) scale(0.9434 1)" font-size="8.48" text-anchor="end" fill="#1a1a1a" stroke="#1a1a1a" stroke-width="0.36" >31</text>
<text transform="translate(773 554.75) scale(1.0000 1)" font-size="10.90" text-anchor="start" fill="#222" stroke="#222" stroke-width="0.36" >Свет - 1 комната</text>
<text transform="translate(952 554.72) scale(0.9434 1)" font-size="10.81" text-anchor="start" fill="#222" stroke="#222" stroke-width="0.36" >3x1.5</text>
<polyline points="664,566.5899999999999 680.5,566.5899999999999" fill="none" stroke="#9a2830" stroke-width="2.5" stroke-linecap="butt" stroke-linejoin="miter" />
<rect x="680.5" y="558.56" width="80.5" height="16.059999999999945" fill="#c2c2c2" stroke="#3a3a3a" stroke-width="1.25" />
<rect x="761" y="558.56" width="162" height="16.059999999999945" fill="#fff" stroke="#3a3a3a" stroke-width="1.25" />
<text transform="translate(692.5 570.41) scale(0.9434 1)" font-size="10.60" text-anchor="start" fill="#1a1a1a" stroke="#1a1a1a" stroke-width="0.36" >АВ 16А 1Р</text>
<text transform="translate(758.7 570.34) scale(0.9434 1)" font-size="8.48" text-anchor="end" fill="#1a1a1a" stroke="#1a1a1a" stroke-width="0.36" >32</text>
<text transform="translate(773 570.81) scale(1.0000 1)" font-size="10.90" text-anchor="start" fill="#222" stroke="#222" stroke-width="0.36" >Розетка - 1 комната</text>
<text transform="translate(952 570.78) scale(0.9434 1)" font-size="10.81" text-anchor="start" fill="#222" stroke="#222" stroke-width="0.36" >3x2.5</text>
<polyline points="664,582.65 680.5,582.65" fill="none" stroke="#9a2830" stroke-width="2.5" stroke-linecap="butt" stroke-linejoin="miter" />
<rect x="680.5" y="574.62" width="80.5" height="16.059999999999945" fill="#c2c2c2" stroke="#3a3a3a" stroke-width="1.25" />
<rect x="761" y="574.62" width="162" height="16.059999999999945" fill="#fff" stroke="#3a3a3a" stroke-width="1.25" />
<text transform="translate(692.5 586.47) scale(0.9434 1)" font-size="10.60" text-anchor="start" fill="#1a1a1a" stroke="#1a1a1a" stroke-width="0.36" >АВ 10А 1Р</text>
<text transform="translate(758.7 586.40) scale(0.9434 1)" font-size="8.48" text-anchor="end" fill="#1a1a1a" stroke="#1a1a1a" stroke-width="0.36" >33</text>
<text transform="translate(773 586.87) scale(1.0000 1)" font-size="10.90" text-anchor="start" fill="#222" stroke="#222" stroke-width="0.36" >Свет - 2 комната</text>
<text transform="translate(952 586.84) scale(0.9434 1)" font-size="10.81" text-anchor="start" fill="#222" stroke="#222" stroke-width="0.36" >3x1.5</text>
<polyline points="664,598.7099999999999 680.5,598.7099999999999" fill="none" stroke="#9a2830" stroke-width="2.5" stroke-linecap="butt" stroke-linejoin="miter" />
<rect x="680.5" y="590.68" width="80.5" height="16.059999999999945" fill="#c2c2c2" stroke="#3a3a3a" stroke-width="1.25" />
<rect x="761" y="590.68" width="162" height="16.059999999999945" fill="#fff" stroke="#3a3a3a" stroke-width="1.25" />
<text transform="translate(692.5 602.53) scale(0.9434 1)" font-size="10.60" text-anchor="start" fill="#1a1a1a" stroke="#1a1a1a" stroke-width="0.36" >АВ 16А 1Р</text>
<text transform="translate(758.7 602.46) scale(0.9434 1)" font-size="8.48" text-anchor="end" fill="#1a1a1a" stroke="#1a1a1a" stroke-width="0.36" >34</text>
<text transform="translate(773 602.93) scale(1.0000 1)" font-size="10.90" text-anchor="start" fill="#222" stroke="#222" stroke-width="0.36" >Розетка - 2 комната</text>
<text transform="translate(952 602.90) scale(0.9434 1)" font-size="10.81" text-anchor="start" fill="#222" stroke="#222" stroke-width="0.36" >3x2.5</text>
<polyline points="664,614.77 680.5,614.77" fill="none" stroke="#9a2830" stroke-width="2.5" stroke-linecap="butt" stroke-linejoin="miter" />
<rect x="680.5" y="606.74" width="80.5" height="16.059999999999945" fill="#c2c2c2" stroke="#3a3a3a" stroke-width="1.25" />
<rect x="761" y="606.74" width="162" height="16.059999999999945" fill="#fff" stroke="#3a3a3a" stroke-width="1.25" />
<text transform="translate(692.5 618.59) scale(0.9434 1)" font-size="10.60" text-anchor="start" fill="#1a1a1a" stroke="#1a1a1a" stroke-width="0.36" >АВ 10А 1Р</text>
<text transform="translate(758.7 618.52) scale(0.9434 1)" font-size="8.48" text-anchor="end" fill="#1a1a1a" stroke="#1a1a1a" stroke-width="0.36" >35</text>
<text transform="translate(773 618.99) scale(1.0000 1)" font-size="10.90" text-anchor="start" fill="#222" stroke="#222" stroke-width="0.36" >Свет - 3 комната</text>
<text transform="translate(952 618.96) scale(0.9434 1)" font-size="10.81" text-anchor="start" fill="#222" stroke="#222" stroke-width="0.36" >3x1.5</text>
<polyline points="664,630.8299999999999 680.5,630.8299999999999" fill="none" stroke="#9a2830" stroke-width="2.5" stroke-linecap="butt" stroke-linejoin="miter" />
<rect x="680.5" y="622.8" width="80.5" height="16.059999999999945" fill="#c2c2c2" stroke="#3a3a3a" stroke-width="1.25" />
<rect x="761" y="622.8" width="162" height="16.059999999999945" fill="#fff" stroke="#3a3a3a" stroke-width="1.25" />
<text transform="translate(692.5 634.65) scale(0.9434 1)" font-size="10.60" text-anchor="start" fill="#1a1a1a" stroke="#1a1a1a" stroke-width="0.36" >АВ 16А 1Р</text>
<text transform="translate(758.7 634.58) scale(0.9434 1)" font-size="8.48" text-anchor="end" fill="#1a1a1a" stroke="#1a1a1a" stroke-width="0.36" >36</text>
<text transform="translate(773 635.05) scale(1.0000 1)" font-size="10.90" text-anchor="start" fill="#222" stroke="#222" stroke-width="0.36" >Розетка 3- комната</text>
<text transform="translate(952 635.02) scale(0.9434 1)" font-size="10.81" text-anchor="start" fill="#222" stroke="#222" stroke-width="0.36" >3x2.5</text>
<polyline points="664,646.89 680.5,646.89" fill="none" stroke="#9a2830" stroke-width="2.5" stroke-linecap="butt" stroke-linejoin="miter" />
<rect x="680.5" y="638.86" width="80.5" height="16.059999999999945" fill="#c2c2c2" stroke="#3a3a3a" stroke-width="1.25" />
<rect x="761" y="638.86" width="162" height="16.059999999999945" fill="#fff" stroke="#3a3a3a" stroke-width="1.25" />
<text transform="translate(692.5 650.71) scale(0.9434 1)" font-size="10.60" text-anchor="start" fill="#1a1a1a" stroke="#1a1a1a" stroke-width="0.36" >АВ 10А 1Р</text>
<text transform="translate(758.7 650.64) scale(0.9434 1)" font-size="8.48" text-anchor="end" fill="#1a1a1a" stroke="#1a1a1a" stroke-width="0.36" >37</text>
<text transform="translate(773 651.11) scale(1.0000 1)" font-size="10.90" text-anchor="start" fill="#222" stroke="#222" stroke-width="0.36" >Свет - хол</text>
<text transform="translate(952 651.08) scale(0.9434 1)" font-size="10.81" text-anchor="start" fill="#222" stroke="#222" stroke-width="0.36" >3x1.5</text>
<polyline points="664,662.9499999999999 680.5,662.9499999999999" fill="none" stroke="#9a2830" stroke-width="2.5" stroke-linecap="butt" stroke-linejoin="miter" />
<rect x="680.5" y="654.92" width="80.5" height="16.059999999999945" fill="#c2c2c2" stroke="#3a3a3a" stroke-width="1.25" />
<rect x="761" y="654.92" width="162" height="16.059999999999945" fill="#fff" stroke="#3a3a3a" stroke-width="1.25" />
<text transform="translate(692.5 666.77) scale(0.9434 1)" font-size="10.60" text-anchor="start" fill="#1a1a1a" stroke="#1a1a1a" stroke-width="0.36" >АВ 16А 1Р</text>
<text transform="translate(758.7 666.70) scale(0.9434 1)" font-size="8.48" text-anchor="end" fill="#1a1a1a" stroke="#1a1a1a" stroke-width="0.36" >38</text>
<text transform="translate(773 667.17) scale(1.0000 1)" font-size="10.90" text-anchor="start" fill="#222" stroke="#222" stroke-width="0.36" >Розетка - хол</text>
<text transform="translate(952 667.14) scale(0.9434 1)" font-size="10.81" text-anchor="start" fill="#222" stroke="#222" stroke-width="0.36" >3x2.5</text>
<polyline points="600,574.5 656,574.5 656,535 930,535" fill="none" stroke="#2c3384" stroke-width="2.2" stroke-linecap="butt" stroke-linejoin="miter" />
<polyline points="600,599 664,599" fill="none" stroke="#a5252e" stroke-width="2.4" stroke-linecap="butt" stroke-linejoin="miter" />
<polyline points="664,550.5 664,663.5" fill="none" stroke="#e01f26" stroke-width="5.8" stroke-linecap="round" stroke-linejoin="miter" />
<polyline points="648,623 648,656" fill="none" stroke="#3f982b" stroke-width="6" stroke-linecap="round" stroke-linejoin="miter" />
<polyline points="648,623 648,656" fill="none" stroke="#b9f032" stroke-width="3.2" stroke-linecap="round" stroke-linejoin="miter" />
<text transform="translate(935.5 538.35) scale(0.9434 1)" font-size="10.71" text-anchor="start" fill="#222" stroke="#222" stroke-width="0.36" >NYM</text>
<polyline points="154,550.585 170.5,550.585" fill="none" stroke="#9a2830" stroke-width="2.5" stroke-linecap="butt" stroke-linejoin="miter" />
<rect x="170.5" y="542.5" width="80.5" height="16.16999999999996" fill="#c2c2c2" stroke="#3a3a3a" stroke-width="1.25" />
<rect x="251" y="542.5" width="162" height="16.16999999999996" fill="#fff" stroke="#3a3a3a" stroke-width="1.25" />
<text transform="translate(174.5 553.90) scale(0.9434 1)" font-size="10.60" text-anchor="start" fill="#1a1a1a" stroke="#1a1a1a" stroke-width="0.36" >АВ 10А 1Р</text>
<text transform="translate(248.7 553.84) scale(0.9434 1)" font-size="8.48" text-anchor="end" fill="#1a1a1a" stroke="#1a1a1a" stroke-width="0.36" >39</text>
<text transform="translate(263.5 554.81) scale(1.0000 1)" font-size="10.90" text-anchor="start" fill="#222" stroke="#222" stroke-width="0.36" >Свет - столовая</text>
<text transform="translate(442 554.78) scale(0.9434 1)" font-size="10.81" text-anchor="start" fill="#222" stroke="#222" stroke-width="0.36" >3x1.5</text>
<polyline points="154,566.7549999999999 170.5,566.7549999999999" fill="none" stroke="#9a2830" stroke-width="2.5" stroke-linecap="butt" stroke-linejoin="miter" />
<rect x="170.5" y="558.67" width="80.5" height="16.16999999999996" fill="#c2c2c2" stroke="#3a3a3a" stroke-width="1.25" />
<rect x="251" y="558.67" width="162" height="16.16999999999996" fill="#fff" stroke="#3a3a3a" stroke-width="1.25" />
<text transform="translate(174.5 570.07) scale(0.9434 1)" font-size="10.60" text-anchor="start" fill="#1a1a1a" stroke="#1a1a1a" stroke-width="0.36" >АВ 16А 1Р</text>
<text transform="translate(248.7 570.01) scale(0.9434 1)" font-size="8.48" text-anchor="end" fill="#1a1a1a" stroke="#1a1a1a" stroke-width="0.36" >40</text>
<text transform="translate(263.5 570.98) scale(1.0000 1)" font-size="10.90" text-anchor="start" fill="#222" stroke="#222" stroke-width="0.36" >Розетка - столовая</text>
<text transform="translate(442 570.95) scale(0.9434 1)" font-size="10.81" text-anchor="start" fill="#222" stroke="#222" stroke-width="0.36" >3x2.5</text>
<polyline points="154,582.925 170.5,582.925" fill="none" stroke="#9a2830" stroke-width="2.5" stroke-linecap="butt" stroke-linejoin="miter" />
<rect x="170.5" y="574.84" width="80.5" height="16.16999999999996" fill="#c2c2c2" stroke="#3a3a3a" stroke-width="1.25" />
<rect x="251" y="574.84" width="162" height="16.16999999999996" fill="#fff" stroke="#3a3a3a" stroke-width="1.25" />
<text transform="translate(174.5 586.24) scale(0.9434 1)" font-size="10.60" text-anchor="start" fill="#1a1a1a" stroke="#1a1a1a" stroke-width="0.36" >АВ 10А 1Р</text>
<text transform="translate(248.7 586.18) scale(0.9434 1)" font-size="8.48" text-anchor="end" fill="#1a1a1a" stroke="#1a1a1a" stroke-width="0.36" >41</text>
<text transform="translate(263.5 587.15) scale(1.0000 1)" font-size="10.90" text-anchor="start" fill="#222" stroke="#222" stroke-width="0.36" >Свет - кухня</text>
<text transform="translate(442 587.12) scale(0.9434 1)" font-size="10.81" text-anchor="start" fill="#222" stroke="#222" stroke-width="0.36" >3x1.5</text>
<polyline points="154,599.095 170.5,599.095" fill="none" stroke="#9a2830" stroke-width="2.5" stroke-linecap="butt" stroke-linejoin="miter" />
<rect x="170.5" y="591.01" width="80.5" height="16.16999999999996" fill="#c2c2c2" stroke="#3a3a3a" stroke-width="1.25" />
<rect x="251" y="591.01" width="162" height="16.16999999999996" fill="#fff" stroke="#3a3a3a" stroke-width="1.25" />
<text transform="translate(174.5 602.41) scale(0.9434 1)" font-size="10.60" text-anchor="start" fill="#1a1a1a" stroke="#1a1a1a" stroke-width="0.36" >АВ 16А 1Р</text>
<text transform="translate(248.7 602.35) scale(0.9434 1)" font-size="8.48" text-anchor="end" fill="#1a1a1a" stroke="#1a1a1a" stroke-width="0.36" >42</text>
<text transform="translate(263.5 603.32) scale(1.0000 1)" font-size="10.90" text-anchor="start" fill="#222" stroke="#222" stroke-width="0.36" >Розетка - кухня</text>
<text transform="translate(442 603.29) scale(0.9434 1)" font-size="10.81" text-anchor="start" fill="#222" stroke="#222" stroke-width="0.36" >3x2.5</text>
<polyline points="154,615.2650000000001 170.5,615.2650000000001" fill="none" stroke="#9a2830" stroke-width="2.5" stroke-linecap="butt" stroke-linejoin="miter" />
<rect x="170.5" y="607.1800000000001" width="80.5" height="16.16999999999996" fill="#c2c2c2" stroke="#3a3a3a" stroke-width="1.25" />
<rect x="251" y="607.1800000000001" width="162" height="16.16999999999996" fill="#fff" stroke="#3a3a3a" stroke-width="1.25" />
<text transform="translate(174.5 618.58) scale(0.9434 1)" font-size="10.60" text-anchor="start" fill="#1a1a1a" stroke="#1a1a1a" stroke-width="0.36" >АВ 10А 1Р</text>
<text transform="translate(248.7 618.52) scale(0.9434 1)" font-size="8.48" text-anchor="end" fill="#1a1a1a" stroke="#1a1a1a" stroke-width="0.36" >43</text>
<text transform="translate(263.5 619.49) scale(1.0000 1)" font-size="10.90" text-anchor="start" fill="#222" stroke="#222" stroke-width="0.36" >Свет - парная, помывочная</text>
<text transform="translate(442 619.46) scale(0.9434 1)" font-size="10.81" text-anchor="start" fill="#222" stroke="#222" stroke-width="0.36" >3x1.5</text>
<polyline points="154,631.435 170.5,631.435" fill="none" stroke="#9a2830" stroke-width="2.5" stroke-linecap="butt" stroke-linejoin="miter" />
<rect x="170.5" y="623.35" width="80.5" height="16.16999999999996" fill="#c2c2c2" stroke="#3a3a3a" stroke-width="1.25" />
<rect x="251" y="623.35" width="162" height="16.16999999999996" fill="#fff" stroke="#3a3a3a" stroke-width="1.25" />
<text transform="translate(174.5 634.75) scale(0.9434 1)" font-size="10.60" text-anchor="start" fill="#1a1a1a" stroke="#1a1a1a" stroke-width="0.36" >АВ 16А 1Р</text>
<text transform="translate(248.7 634.69) scale(0.9434 1)" font-size="8.48" text-anchor="end" fill="#1a1a1a" stroke="#1a1a1a" stroke-width="0.36" >44</text>
<text transform="translate(263.5 635.66) scale(1.0000 1)" font-size="10.90" text-anchor="start" fill="#222" stroke="#222" stroke-width="0.36" >Водонагреватель</text>
<text transform="translate(442 635.63) scale(0.9434 1)" font-size="10.81" text-anchor="start" fill="#222" stroke="#222" stroke-width="0.36" >3x2.5</text>
<polyline points="154,647.605 170.5,647.605" fill="none" stroke="#9a2830" stroke-width="2.5" stroke-linecap="butt" stroke-linejoin="miter" />
<rect x="170.5" y="639.52" width="80.5" height="16.16999999999996" fill="#c2c2c2" stroke="#3a3a3a" stroke-width="1.25" />
<rect x="251" y="639.52" width="162" height="16.16999999999996" fill="#fff" stroke="#3a3a3a" stroke-width="1.25" />
<text transform="translate(174.5 650.92) scale(0.9434 1)" font-size="10.60" text-anchor="start" fill="#1a1a1a" stroke="#1a1a1a" stroke-width="0.36" >АВ 10А 1Р</text>
<text transform="translate(248.7 650.86) scale(0.9434 1)" font-size="8.48" text-anchor="end" fill="#1a1a1a" stroke="#1a1a1a" stroke-width="0.36" >45</text>
<text transform="translate(263.5 651.83) scale(1.0000 1)" font-size="10.90" text-anchor="start" fill="#222" stroke="#222" stroke-width="0.36" >Свет - 2-ой этаж</text>
<text transform="translate(442 651.80) scale(0.9434 1)" font-size="10.81" text-anchor="start" fill="#222" stroke="#222" stroke-width="0.36" >3x1.5</text>
<polyline points="154,663.7750000000001 170.5,663.7750000000001" fill="none" stroke="#9a2830" stroke-width="2.5" stroke-linecap="butt" stroke-linejoin="miter" />
<rect x="170.5" y="655.69" width="80.5" height="16.16999999999996" fill="#c2c2c2" stroke="#3a3a3a" stroke-width="1.25" />
<rect x="251" y="655.69" width="162" height="16.16999999999996" fill="#fff" stroke="#3a3a3a" stroke-width="1.25" />
<text transform="translate(174.5 667.09) scale(0.9434 1)" font-size="10.60" text-anchor="start" fill="#1a1a1a" stroke="#1a1a1a" stroke-width="0.36" >АВ 16А 1Р</text>
<text transform="translate(248.7 667.03) scale(0.9434 1)" font-size="8.48" text-anchor="end" fill="#1a1a1a" stroke="#1a1a1a" stroke-width="0.36" >46</text>
<text transform="translate(263.5 668.00) scale(1.0000 1)" font-size="10.90" text-anchor="start" fill="#222" stroke="#222" stroke-width="0.36" >Розетка - 2-ой этаж</text>
<text transform="translate(442 667.97) scale(0.9434 1)" font-size="10.81" text-anchor="start" fill="#222" stroke="#222" stroke-width="0.36" >3x2.5</text>
<polyline points="154,679.9449999999999 170.5,679.9449999999999" fill="none" stroke="#9a2830" stroke-width="2.5" stroke-linecap="butt" stroke-linejoin="miter" />
<rect x="170.5" y="671.86" width="80.5" height="16.16999999999996" fill="#c2c2c2" stroke="#3a3a3a" stroke-width="1.25" />
<rect x="251" y="671.86" width="162" height="16.16999999999996" fill="#fff" stroke="#3a3a3a" stroke-width="1.25" />
<text transform="translate(174.5 683.26) scale(0.9434 1)" font-size="10.60" text-anchor="start" fill="#1a1a1a" stroke="#1a1a1a" stroke-width="0.36" >АВ 16А 1Р</text>
<text transform="translate(248.7 683.20) scale(0.9434 1)" font-size="8.48" text-anchor="end" fill="#1a1a1a" stroke="#1a1a1a" stroke-width="0.36" >48</text>
<text transform="translate(263.5 682.48) scale(1.0000 1)" font-size="10.23" text-anchor="start" fill="#222" stroke="#222" stroke-width="0.36" >2 прожектора (1000 w каждый)</text>
<text transform="translate(442 684.14) scale(0.9434 1)" font-size="10.81" text-anchor="start" fill="#222" stroke="#222" stroke-width="0.36" >3x2.5</text>
<polyline points="89.5,575 146,575 146,534.5 422,534.5" fill="none" stroke="#2c3384" stroke-width="2.2" stroke-linecap="butt" stroke-linejoin="miter" />
<polyline points="89.5,599 154,599" fill="none" stroke="#a5252e" stroke-width="2.4" stroke-linecap="butt" stroke-linejoin="miter" />
<polyline points="154,551 154,679.5" fill="none" stroke="#e01f26" stroke-width="5.8" stroke-linecap="round" stroke-linejoin="miter" />
<polyline points="138,623.6 138,671.2" fill="none" stroke="#3f982b" stroke-width="6" stroke-linecap="round" stroke-linejoin="miter" />
<polyline points="138,623.6 138,671.2" fill="none" stroke="#b9f032" stroke-width="3.2" stroke-linecap="round" stroke-linejoin="miter" />
<text transform="translate(426 538.35) scale(0.9434 1)" font-size="10.71" text-anchor="start" fill="#222" stroke="#222" stroke-width="0.36" >NYM</text>
<rect x="32.5" y="251" width="33.0" height="64.5" fill="#c2c2c2" stroke="#3e3e3e" stroke-width="1.35" />
<text transform="translate(37 271.32) scale(0.9434 1)" font-size="10.60" font-weight="bold" text-anchor="start" fill="#1a1a1a" stroke="#1a1a1a" stroke-width="0.5" >АВ</text>
<text transform="translate(37 285.82) scale(0.9434 1)" font-size="10.60" font-weight="bold" text-anchor="start" fill="#1a1a1a" stroke="#1a1a1a" stroke-width="0.5" >50А</text>
<text transform="translate(37 300.32) scale(0.9434 1)" font-size="10.60" font-weight="bold" text-anchor="start" fill="#1a1a1a" stroke="#1a1a1a" stroke-width="0.5" >3Р</text>
<rect x="202.5" y="275" width="24.5" height="64.5" fill="#c2c2c2" stroke="#3e3e3e" stroke-width="1.35" />
<text transform="translate(205.3 286.15) scale(1.0538 1)" font-size="9.30" text-anchor="start" fill="#1a1a1a" stroke="#1a1a1a" stroke-width="0.36" >L</text>
<text transform="translate(218 286.15) scale(1.0538 1)" font-size="9.30" text-anchor="start" fill="#1a1a1a" stroke="#1a1a1a" stroke-width="0.36" >N</text>
<text transform="translate(206 300.82) scale(0.9434 1)" font-size="10.60" font-weight="bold" text-anchor="start" fill="#1a1a1a" stroke="#1a1a1a" stroke-width="0.5" >АВ</text>
<text transform="translate(206 314.82) scale(0.9434 1)" font-size="10.60" font-weight="bold" text-anchor="start" fill="#1a1a1a" stroke="#1a1a1a" stroke-width="0.5" >50А</text>
<text transform="translate(206 329.32) scale(0.9434 1)" font-size="10.60" font-weight="bold" text-anchor="start" fill="#1a1a1a" stroke="#1a1a1a" stroke-width="0.5" >2Р</text>
<rect x="251" y="275" width="49" height="64.5" fill="#c2c2c2" stroke="#3e3e3e" stroke-width="1.35" />
<text transform="translate(255 288.10) scale(1.0000 1)" font-size="10.00" font-weight="bold" text-anchor="start" fill="#1a1a1a" stroke="#1a1a1a" stroke-width="0.5" >Счетчик</text>
<text transform="translate(296.5 335.90) scale(0.9434 1)" font-size="8.06" text-anchor="end" fill="#1a1a1a" stroke="#1a1a1a" stroke-width="0.36" >2</text>
<rect x="267.5" y="372.5" width="33.0" height="32.5" fill="#c2c2c2" stroke="#3e3e3e" stroke-width="1.35" />
<text transform="translate(269.5 381.21) scale(1.0000 1)" font-size="9.20" text-anchor="start" fill="#1a1a1a" stroke="#1a1a1a" stroke-width="0.36" >Пере-</text>
<text transform="translate(269.5 392.71) scale(1.0000 1)" font-size="9.20" text-anchor="start" fill="#1a1a1a" stroke="#1a1a1a" stroke-width="0.36" >клю-</text>
<text transform="translate(269.5 403.81) scale(1.0000 1)" font-size="9.20" text-anchor="start" fill="#1a1a1a" stroke="#1a1a1a" stroke-width="0.36" >чатель</text>
<rect x="324.5" y="275.3" width="32.5" height="64.69999999999999" fill="#c2c2c2" stroke="#3e3e3e" stroke-width="1.35" />
<text transform="translate(328 290.97) scale(0.9434 1)" font-size="11.02" text-anchor="start" fill="#1a1a1a" stroke="#1a1a1a" stroke-width="0.36" >УЗО</text>
<text transform="translate(328 305.47) scale(0.9434 1)" font-size="11.02" text-anchor="start" fill="#1a1a1a" stroke="#1a1a1a" stroke-width="0.36" >40А</text>
<text transform="translate(328.3 317.28) scale(0.9434 1)" font-size="9.12" text-anchor="start" fill="#1a1a1a" stroke="#1a1a1a" stroke-width="0.36" >300мА</text>
<text transform="translate(328 331.47) scale(0.9434 1)" font-size="11.02" text-anchor="start" fill="#1a1a1a" stroke="#1a1a1a" stroke-width="0.36" >Тип ?</text>
<rect x="397" y="275.5" width="24.30000000000001" height="64.69999999999999" fill="#c2c2c2" stroke="#3e3e3e" stroke-width="1.35" />
<text transform="translate(400.3 291.24) scale(0.9434 1)" font-size="10.39" font-weight="bold" text-anchor="start" fill="#1a1a1a" stroke="#1a1a1a" stroke-width="0.5" >АВ</text>
<text transform="translate(400.3 305.74) scale(0.9434 1)" font-size="10.39" font-weight="bold" text-anchor="start" fill="#1a1a1a" stroke="#1a1a1a" stroke-width="0.5" >40А</text>
<text transform="translate(400.3 320.24) scale(0.9434 1)" font-size="10.39" font-weight="bold" text-anchor="start" fill="#1a1a1a" stroke="#1a1a1a" stroke-width="0.5" >2Р</text>
<text transform="translate(419.8 338.67) scale(0.9434 1)" font-size="8.80" text-anchor="end" fill="#1a1a1a" stroke="#1a1a1a" stroke-width="0.36" >48</text>
<rect x="445.5" y="275.5" width="24.69999999999999" height="64.69999999999999" fill="#c2c2c2" stroke="#3e3e3e" stroke-width="1.35" />
<text transform="translate(448.8 291.24) scale(0.9434 1)" font-size="10.39" font-weight="bold" text-anchor="start" fill="#1a1a1a" stroke="#1a1a1a" stroke-width="0.5" >АВ</text>
<text transform="translate(448.8 305.74) scale(0.9434 1)" font-size="10.39" font-weight="bold" text-anchor="start" fill="#1a1a1a" stroke="#1a1a1a" stroke-width="0.5" >40А</text>
<text transform="translate(448.8 320.24) scale(0.9434 1)" font-size="10.39" font-weight="bold" text-anchor="start" fill="#1a1a1a" stroke="#1a1a1a" stroke-width="0.5" >2Р</text>
<text transform="translate(468.7 338.67) scale(0.9434 1)" font-size="8.80" text-anchor="end" fill="#1a1a1a" stroke="#1a1a1a" stroke-width="0.36" >49</text>
<rect x="478" y="275.5" width="24.69999999999999" height="64.69999999999999" fill="#c2c2c2" stroke="#3e3e3e" stroke-width="1.35" />
<text transform="translate(481.3 291.24) scale(0.9434 1)" font-size="10.39" font-weight="bold" text-anchor="start" fill="#1a1a1a" stroke="#1a1a1a" stroke-width="0.5" >АВ</text>
<text transform="translate(481.3 305.74) scale(0.9434 1)" font-size="10.39" font-weight="bold" text-anchor="start" fill="#1a1a1a" stroke="#1a1a1a" stroke-width="0.5" >32А</text>
<text transform="translate(481.3 320.24) scale(0.9434 1)" font-size="10.39" font-weight="bold" text-anchor="start" fill="#1a1a1a" stroke="#1a1a1a" stroke-width="0.5" >2Р</text>
<text transform="translate(501.2 338.67) scale(0.9434 1)" font-size="8.80" text-anchor="end" fill="#1a1a1a" stroke="#1a1a1a" stroke-width="0.36" >50</text>
<rect x="526.5" y="275.5" width="24.700000000000045" height="64.69999999999999" fill="#c2c2c2" stroke="#3e3e3e" stroke-width="1.35" />
<text transform="translate(529.8 291.24) scale(0.9434 1)" font-size="10.39" font-weight="bold" text-anchor="start" fill="#1a1a1a" stroke="#1a1a1a" stroke-width="0.5" >АВ</text>
<text transform="translate(529.8 305.74) scale(0.9434 1)" font-size="10.39" font-weight="bold" text-anchor="start" fill="#1a1a1a" stroke="#1a1a1a" stroke-width="0.5" >40А</text>
<text transform="translate(529.8 320.24) scale(0.9434 1)" font-size="10.39" font-weight="bold" text-anchor="start" fill="#1a1a1a" stroke="#1a1a1a" stroke-width="0.5" >2Р</text>
<text transform="translate(549.7 338.67) scale(0.9434 1)" font-size="8.80" text-anchor="end" fill="#1a1a1a" stroke="#1a1a1a" stroke-width="0.36" >51</text>
<rect x="591.6" y="275.4" width="31.600000000000023" height="64.60000000000002" fill="#c2c2c2" stroke="#3e3e3e" stroke-width="1.35" />
<text transform="translate(595 287.93) scale(0.9434 1)" font-size="10.92" text-anchor="start" fill="#1a1a1a" stroke="#1a1a1a" stroke-width="0.36" >УЗО</text>
<text transform="translate(595 302.43) scale(0.9434 1)" font-size="10.92" text-anchor="start" fill="#1a1a1a" stroke="#1a1a1a" stroke-width="0.36" >40А</text>
<text transform="translate(595 316.93) scale(0.9434 1)" font-size="10.92" text-anchor="start" fill="#1a1a1a" stroke="#1a1a1a" stroke-width="0.36" >30мА</text>
<text transform="translate(595 331.43) scale(0.9434 1)" font-size="10.92" text-anchor="start" fill="#1a1a1a" stroke="#1a1a1a" stroke-width="0.36" >Тип А</text>
<text transform="translate(622 339.08) scale(0.9434 1)" font-size="9.12" text-anchor="end" fill="#1a1a1a" stroke="#1a1a1a" stroke-width="0.36" >6</text>
<rect x="81.6" y="380.6" width="48.5" height="48.599999999999966" fill="#c2c2c2" stroke="#3e3e3e" stroke-width="1.35" />
<text transform="translate(96.7 391.28) scale(1.0213 1)" font-size="9.40" text-anchor="start" fill="#1a1a1a" stroke="#1a1a1a" stroke-width="0.36" >L</text>
<text transform="translate(113 391.28) scale(1.0532 1)" font-size="9.40" text-anchor="start" fill="#1a1a1a" stroke="#1a1a1a" stroke-width="0.36" >N</text>
<text transform="translate(92.5 408.82) scale(0.9434 1)" font-size="10.60" font-weight="bold" text-anchor="start" fill="#1a1a1a" stroke="#1a1a1a" stroke-width="0.5" >ОПН</text>
<text transform="translate(86.8 423.58) scale(1.0000 1)" font-size="9.40" text-anchor="start" fill="#1a1a1a" stroke="#1a1a1a" stroke-width="0.36" >PE</text>
<text transform="translate(51 434.09) scale(0.9434 1)" font-size="9.96" text-anchor="start" fill="#222" stroke="#222" stroke-width="0.36" >PE</text>
<rect x="534.5" y="49" width="65.0" height="40" fill="#c2c2c2" stroke="#3e3e3e" stroke-width="1.35" />
<text transform="translate(539.0 60.87) scale(1.0000 1)" font-size="10.20" text-anchor="start" fill="#1a1a1a" stroke="#1a1a1a" stroke-width="0.36" >УЗО 40А 2Р</text>
<text transform="translate(539.0 75.67) scale(1.0294 1)" font-size="10.20" text-anchor="start" fill="#1a1a1a" stroke="#1a1a1a" stroke-width="0.36" >30мА Тип А</text>
<text transform="translate(595.5 84.05) scale(0.9434 1)" font-size="8.48" text-anchor="end" fill="#1a1a1a" stroke="#1a1a1a" stroke-width="0.36" >4</text>
<rect x="24.5" y="567" width="65.0" height="40" fill="#c2c2c2" stroke="#3e3e3e" stroke-width="1.35" />
<text transform="translate(29.0 578.87) scale(1.0000 1)" font-size="10.20" text-anchor="start" fill="#1a1a1a" stroke="#1a1a1a" stroke-width="0.36" >УЗО 40А 2Р</text>
<text transform="translate(29.0 593.67) scale(1.0294 1)" font-size="10.20" text-anchor="start" fill="#1a1a1a" stroke="#1a1a1a" stroke-width="0.36" >30мА Тип А</text>
<text transform="translate(86 602.05) scale(0.9434 1)" font-size="8.48" text-anchor="end" fill="#1a1a1a" stroke="#1a1a1a" stroke-width="0.36" >47</text>
<rect x="534.5" y="566.5" width="65.5" height="41.0" fill="#c2c2c2" stroke="#3e3e3e" stroke-width="1.35" />
<text transform="translate(539.0 578.37) scale(1.0000 1)" font-size="10.20" text-anchor="start" fill="#1a1a1a" stroke="#1a1a1a" stroke-width="0.36" >УЗО 25А 2Р</text>
<text transform="translate(539.0 593.17) scale(1.0294 1)" font-size="10.20" text-anchor="start" fill="#1a1a1a" stroke="#1a1a1a" stroke-width="0.36" >30мА Тип А</text>
<text transform="translate(595 601.55) scale(0.9434 1)" font-size="8.48" text-anchor="end" fill="#1a1a1a" stroke="#1a1a1a" stroke-width="0.36" >7</text>
</svg>
</body></html>
